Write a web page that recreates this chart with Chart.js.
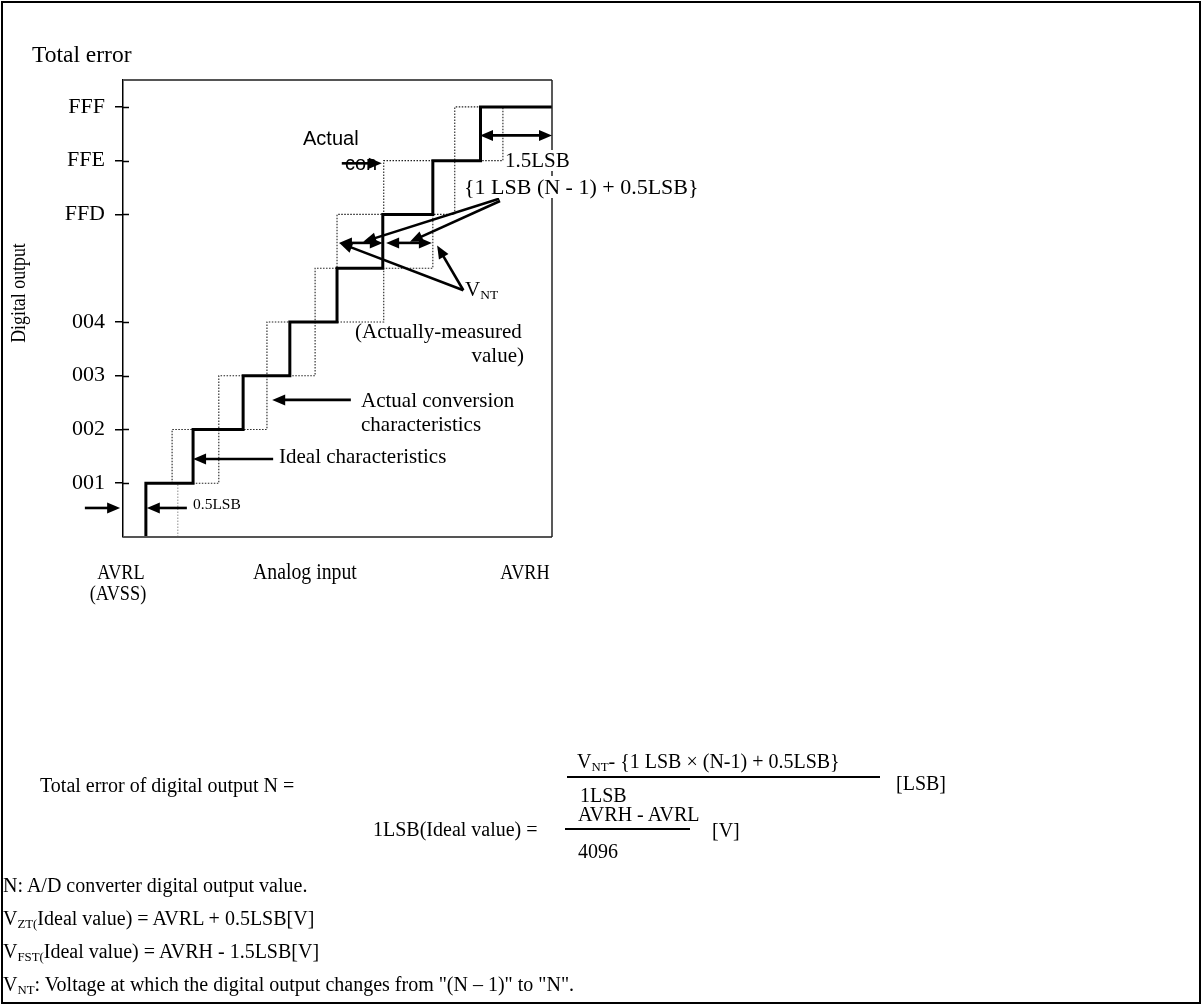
<!DOCTYPE html>
<html><head><meta charset="utf-8">
<script src="https://cdn.jsdelivr.net/npm/chart.js@4.4.1/dist/chart.umd.min.js"></script>
<style>
html,body{margin:0;padding:0;background:#fff;}
#wrap{position:relative;width:1202px;height:1005px;overflow:hidden;background:#fff;}
#frame{position:absolute;left:1px;top:1px;width:1196px;height:999px;border:2px solid #000;pointer-events:none;}
canvas{position:absolute;left:0;top:0;}
.t{position:absolute;white-space:nowrap;line-height:1;font-family:'Liberation Serif','Times New Roman',serif;color:#000;transform-origin:0 0;}
.sans{font-family:'Liberation Sans',Arial,sans-serif;}
.t sub{font-size:0.64em;vertical-align:-0.22em;line-height:0;}
.rule{position:absolute;background:#000;height:2px;}
</style></head><body>
<div id="wrap"><canvas id="c" width="1202" height="1005"></canvas><div id="frame"></div></div>
<script>
// ---- data (x in LSB from AVRL, y in code steps) ----
const codeLevels = [1, 2, 3, 4, 6, 7, 8];
const codeLabels = ['001', '002', '003', '004', 'FFD', 'FFE', 'FFF'];
const idealStepX = [0.48, 1.47, 2.52, 3.5, 4.49, 5.45, 6.5, 7.5];      // solid: code k-1 -> k
const actualLowStepX = [1.03, 2.01, 3.02, 4.03, 4.49, 5.47, 6.96];     // dotted: into codes 2..8
const actualHighStepX = [2.01, 3.02, 4.03, 5.47, 6.5, 6.96, 7.97];     // dotted: codes 1..7 -> next
const zeroMarkX = 1.15;
const xMin = 0, xMax = 9, yMin = 0, yMax = 8.5;

// arrows in data units: [x1, y1, x2, y2, heads] heads: 1=end, 2=both
const arrows = [
  [7.49, 7.47, 9.0, 7.47, 2],
  [4.59, 6.95, 5.43, 6.95, 1],
  [4.53, 5.47, 5.45, 5.47, 2],
  [5.52, 5.47, 6.48, 5.47, 2],
  [7.89, 6.29, 5.04, 5.49, 1],
  [7.91, 6.25, 6.02, 5.49, 1],
  [7.14, 4.59, 4.54, 5.47, 1],
  [7.14, 4.59, 6.59, 5.42, 1],
  [4.78, 2.55, 3.13, 2.55, 1],
  [3.15, 1.45, 1.47, 1.45, 1],
  [1.34, 0.54, 0.50, 0.54, 1],
  [-0.80, 0.54, -0.06, 0.54, 1]
];

const idealData = [{x: idealStepX[0], y: 0}].concat(idealStepX.map((x, i) => ({x, y: i + 1})), [{x: xMax, y: 8}]);
const lowData = [{x: actualLowStepX[0], y: 1}].concat(actualLowStepX.map((x, i) => ({x, y: i + 2})), [{x: idealStepX[7], y: 8}]);
const highData = [{x: zeroMarkX, y: 1}].concat(actualHighStepX.map((x, i) => ({x, y: i + 2})), [{x: xMax, y: 8}]);
const markData = [{x: zeroMarkX, y: 0}, {x: zeroMarkX, y: 1}];

function head(ctx, x1, y1, x2, y2) {
  const a = Math.atan2(y2 - y1, x2 - x1), len = 13, hw = 5.5;
  ctx.beginPath();
  ctx.moveTo(x2, y2);
  ctx.lineTo(x2 - len * Math.cos(a) + hw * Math.sin(a), y2 - len * Math.sin(a) - hw * Math.cos(a));
  ctx.lineTo(x2 - len * Math.cos(a) - hw * Math.sin(a), y2 - len * Math.sin(a) + hw * Math.cos(a));
  ctx.closePath();
  ctx.fill();
}

const decor = {
  id: 'decor',
  afterDatasetsDraw(chart) {
    const {ctx, chartArea: a, scales: {x, y}} = chart;
    ctx.save();
    ctx.strokeStyle = '#555'; ctx.lineWidth = 2;
    ctx.beginPath(); ctx.moveTo(a.left, a.top); ctx.lineTo(a.right, a.top); ctx.stroke();
    ctx.beginPath(); ctx.moveTo(a.left, a.bottom); ctx.lineTo(a.right, a.bottom); ctx.stroke();
    ctx.strokeStyle = '#222'; ctx.lineWidth = 1.5;
    ctx.beginPath(); ctx.moveTo(a.right, a.top); ctx.lineTo(a.right, a.bottom); ctx.stroke();
    ctx.strokeStyle = '#000'; ctx.lineWidth = 1.5;
    y.ticks.forEach(t => {
      const py = Math.round(y.getPixelForValue(t.value)) + 0.5;
      ctx.beginPath(); ctx.moveTo(a.left, py); ctx.lineTo(a.left + 6, py); ctx.stroke();
    });
    ctx.strokeStyle = '#000'; ctx.fillStyle = '#000'; ctx.lineWidth = 2.6;
    arrows.forEach(([x1, y1, x2, y2, h]) => {
      const p1 = [x.getPixelForValue(x1), y.getPixelForValue(y1)];
      const p2 = [x.getPixelForValue(x2), y.getPixelForValue(y2)];
      const d = Math.hypot(p2[0] - p1[0], p2[1] - p1[1]);
      const ux = (p2[0] - p1[0]) / d, uy = (p2[1] - p1[1]) / d;
      const s = h === 2 ? [p1[0] + ux * 9, p1[1] + uy * 9] : p1;
      const e = [p2[0] - ux * 9, p2[1] - uy * 9];
      ctx.beginPath(); ctx.moveTo(s[0], s[1]); ctx.lineTo(e[0], e[1]); ctx.stroke();
      head(ctx, p1[0], p1[1], p2[0], p2[1]);
      if (h === 2) head(ctx, p2[0], p2[1], p1[0], p1[1]);
    });
    ctx.restore();
  }
};

new Chart(document.getElementById('c'), {
  type: 'line',
  data: {
    datasets: [
      {data: idealData, borderColor: '#000', borderWidth: 3, stepped: true, pointRadius: 0, fill: false},
      {data: lowData, borderColor: '#222', borderWidth: 1.1, borderDash: [1.5, 1.5], stepped: true, pointRadius: 0, fill: false},
      {data: highData, borderColor: '#222', borderWidth: 1.1, borderDash: [1.5, 1.5], stepped: true, pointRadius: 0, fill: false},
      {data: markData, borderColor: '#999', borderWidth: 1.1, borderDash: [1.5, 1.5], pointRadius: 0, fill: false}
    ]
  },
  options: {
    responsive: false, animation: false, events: [],
    layout: {padding: {left: 0, top: 80, right: 650, bottom: 468}},
    plugins: {legend: {display: false}, tooltip: {enabled: false}, title: {display: false}},
    scales: {
      x: {type: 'linear', display: false, min: xMin, max: xMax},
      y: {
        type: 'linear', min: yMin, max: yMax,
        afterFit: s => { s.width = 123; },
        afterBuildTicks: s => { s.ticks = codeLevels.map(v => ({value: v})); },
        ticks: {autoSkip: false, padding: 10, color: '#000',
          font: {family: "'Liberation Serif', 'Times New Roman', serif", size: 22},
          callback: v => codeLabels[codeLevels.indexOf(v)]},
        grid: {display: true, drawOnChartArea: false, drawTicks: true, tickLength: 8, color: '#000', lineWidth: 1.5},
        border: {display: true, color: '#000', width: 1.5}
      }
    }
  },
  plugins: [decor]
});

// ---- text ----
const wrap = document.getElementById('wrap');
function lab(html, x, base, size, o = {}) {
  const d = document.createElement('div');
  d.className = 't' + (o.sans ? ' sans' : '');
  d.innerHTML = html;
  d.style.fontSize = size + 'px';
  d.style.left = x + 'px';
  d.style.top = (base - (o.sans ? 0.8465 : 0.8375) * size) + 'px';
  let tr = 'scaleX(' + (o.sx || 1) + ')';
  if (o.align === 'right') tr += ' translateX(-100%)';
  if (o.align === 'center') tr += ' translateX(-50%)';
  d.style.transform = tr;
  if (o.bg) { d.style.background = '#fff'; d.style.padding = '0 1px'; }
  wrap.appendChild(d);
  return d;
}
function rule(x1, x2, y) {
  const d = document.createElement('div');
  d.className = 'rule';
  d.style.left = x1 + 'px'; d.style.width = (x2 - x1) + 'px'; d.style.top = (y - 1) + 'px';
  wrap.appendChild(d);
}
lab('Total error', 32, 63, 23.5);
lab('Actual', 303, 145, 20, {sans: true});
lab('con', 345, 170, 20, {sans: true});
lab('1.5LSB', 504, 168, 21, {bg: true});
lab('{1 LSB (N - 1) + 0.5LSB}', 463, 194, 22, {bg: true});
lab('V<sub>NT</sub>', 465, 297, 21);
lab('(Actually-measured', 355, 339, 21);
lab('value)', 524, 363, 21, {align: 'right'});
lab('Actual conversion', 361, 408, 21);
lab('characteristics', 361, 432, 21);
lab('Ideal characteristics', 279, 464, 21);
lab('0.5LSB', 193, 509, 15.5);
lab('AVRL', 121, 579, 22, {sx: 0.83, align: 'center'});
lab('(AVSS)', 118, 600, 22, {sx: 0.83, align: 'center'});
lab('Analog input', 253, 579, 23, {sx: 0.86});
lab('AVRH', 525, 579, 22, {sx: 0.83, align: 'center'});
const dg = lab('Digital output', 0, 0, 21);
dg.style.left = '18px'; dg.style.top = '293px';
dg.style.transformOrigin = '50% 50%';
dg.style.transform = 'translate(-50%,-50%) rotate(-90deg) scaleX(0.85)';

const fs = 20;
lab('Total error of digital output N =', 40, 792, fs);
lab('V<sub>NT</sub>- {1 LSB × (N-1) + 0.5LSB}', 577, 768, fs);
rule(567, 880, 777);
lab('1LSB', 580, 802, fs);
lab('[LSB]', 896, 790, fs);
lab('1LSB(Ideal value) =', 373, 836, fs);
lab('AVRH - AVRL', 578, 821, fs);
rule(565, 690, 829);
lab('4096', 578, 858, fs);
lab('[V]', 712, 837, fs);
lab('N: A/D converter digital output value.', 3, 892, fs);
lab('V<sub>ZT(</sub>Ideal value) = AVRL + 0.5LSB[V]', 3, 925, fs);
lab('V<sub>FST(</sub>Ideal value) = AVRH - 1.5LSB[V]', 3, 958, fs);
lab('V<sub>NT</sub>: Voltage at which the digital output changes from "(N – 1)" to "N".', 3, 991, fs);
</script>
</body></html>
